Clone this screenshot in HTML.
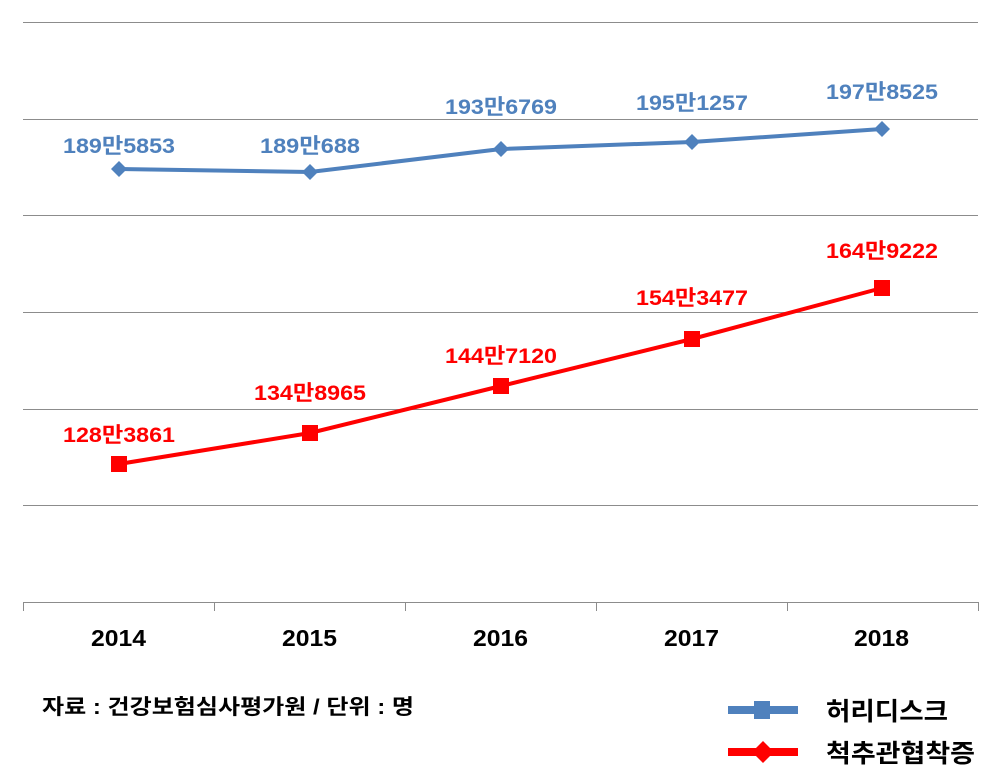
<!DOCTYPE html>
<html><head><meta charset="utf-8"><style>body{margin:0;background:#fff}svg{display:block}</style></head>
<body>
<svg width="1001" height="783" xmlns="http://www.w3.org/2000/svg" font-family="'Liberation Sans','Noto Sans CJK KR',sans-serif" font-weight="bold">
<g stroke="#8c8c8c" stroke-width="1">
<line x1="23" y1="22.5" x2="978" y2="22.5"/>
<line x1="23" y1="119.5" x2="978" y2="119.5"/>
<line x1="23" y1="215.5" x2="978" y2="215.5"/>
<line x1="23" y1="312.5" x2="978" y2="312.5"/>
<line x1="23" y1="409.5" x2="978" y2="409.5"/>
<line x1="23" y1="505.5" x2="978" y2="505.5"/>
<line x1="23" y1="602.5" x2="978" y2="602.5"/>
<line x1="23.5" y1="602" x2="23.5" y2="611"/>
<line x1="214.5" y1="602" x2="214.5" y2="611"/>
<line x1="405.5" y1="602" x2="405.5" y2="611"/>
<line x1="596.5" y1="602" x2="596.5" y2="611"/>
<line x1="787.5" y1="602" x2="787.5" y2="611"/>
<line x1="978.5" y1="602" x2="978.5" y2="611"/>
</g>
<polyline points="119,169 310,172 501,149 692,142 882,129" fill="none" stroke="#4f81bd" stroke-width="4"/>
<g fill="#4f81bd">
<polygon points="119,161 127,169 119,177 111,169"/>
<polygon points="310,164 318,172 310,180 302,172"/>
<polygon points="501,141 509,149 501,157 493,149"/>
<polygon points="692,134 700,142 692,150 684,142"/>
<polygon points="882,121 890,129 882,137 874,129"/>
</g>
<polyline points="119,464 310,433 501,386 692,339 882,288" fill="none" stroke="#ff0000" stroke-width="4"/>
<g fill="#ff0000">
<rect x="111" y="456" width="16" height="16"/>
<rect x="302" y="425" width="16" height="16"/>
<rect x="493" y="378" width="16" height="16"/>
<rect x="684" y="331" width="16" height="16"/>
<rect x="874" y="280" width="16" height="16"/>
</g>
<g fill="#4f81bd" font-size="21" lengthAdjust="spacingAndGlyphs">
<text x="63" y="153" textLength="112" lengthAdjust="spacingAndGlyphs">189만5853</text>
<text x="260" y="153" textLength="100" lengthAdjust="spacingAndGlyphs">189만688</text>
<text x="445" y="114" textLength="112" lengthAdjust="spacingAndGlyphs">193만6769</text>
<text x="636" y="110" textLength="112" lengthAdjust="spacingAndGlyphs">195만1257</text>
<text x="826" y="99" textLength="112" lengthAdjust="spacingAndGlyphs">197만8525</text>
</g>
<g fill="#ff0000" font-size="21">
<text x="63" y="442" textLength="112" lengthAdjust="spacingAndGlyphs">128만3861</text>
<text x="254" y="400" textLength="112" lengthAdjust="spacingAndGlyphs">134만8965</text>
<text x="445" y="363" textLength="112" lengthAdjust="spacingAndGlyphs">144만7120</text>
<text x="636" y="305" textLength="112" lengthAdjust="spacingAndGlyphs">154만3477</text>
<text x="826" y="258" textLength="112" lengthAdjust="spacingAndGlyphs">164만9222</text>
</g>
<g fill="#000" font-size="23">
<text x="91" y="646" textLength="55" lengthAdjust="spacingAndGlyphs">2014</text>
<text x="282" y="646" textLength="55" lengthAdjust="spacingAndGlyphs">2015</text>
<text x="473" y="646" textLength="55" lengthAdjust="spacingAndGlyphs">2016</text>
<text x="664" y="646" textLength="55" lengthAdjust="spacingAndGlyphs">2017</text>
<text x="854" y="646" textLength="55" lengthAdjust="spacingAndGlyphs">2018</text>
</g>
<text x="42" y="714" font-size="21" fill="#000" textLength="372" lengthAdjust="spacingAndGlyphs">자료 : 건강보험심사평가원 / 단위 : 명</text>
<line x1="728" y1="710" x2="798" y2="710" stroke="#4f81bd" stroke-width="8"/>
<rect x="754" y="701" width="16" height="18" fill="#4f81bd"/>
<line x1="728" y1="752" x2="798" y2="752" stroke="#ff0000" stroke-width="8"/>
<polygon points="763,741 774,752 763,763 752,752" fill="#ff0000"/>
<text x="826" y="720" font-size="25" fill="#000" textLength="122" lengthAdjust="spacingAndGlyphs">허리디스크</text>
<text x="826" y="762" font-size="25" fill="#000" textLength="149" lengthAdjust="spacingAndGlyphs">척추관협착증</text>
</svg>
</body></html>
